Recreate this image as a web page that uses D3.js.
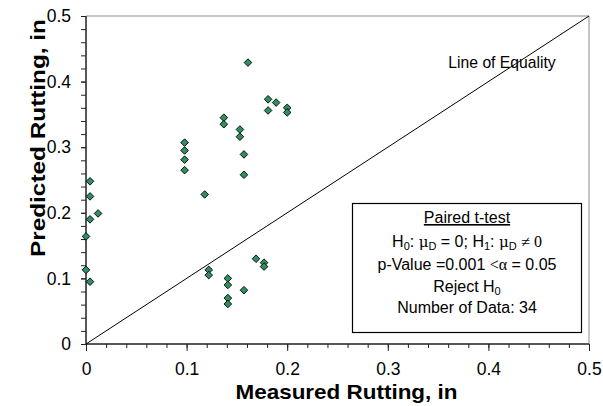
<!DOCTYPE html>
<html>
<head>
    <meta charset="utf-8">
    <style>
        body { margin: 0; background: #fff; }
        svg { font-family: Arial, 'Liberation Sans', sans-serif; }
        .domain { display: none; }
    </style>
</head>
<body>
<svg width="603" height="406"></svg>

<script src="https://d3js.org/d3.v7.min.js"></script>
<script>
    // measured vs predicted rutting (in)
    let measured = [0.004, 0.004, 0.004, 0.012, 0.000, 0.000, 0.004,
        0.098, 0.098, 0.098, 0.098, 0.118, 0.137, 0.137, 0.153, 0.153, 0.157, 0.157,
        0.161, 0.181, 0.189, 0.181, 0.200, 0.200,
        0.169, 0.177, 0.177, 0.122, 0.122, 0.141, 0.141, 0.157, 0.141, 0.141];
    let predicted = [0.248, 0.225, 0.190, 0.199, 0.164, 0.113, 0.095,
        0.307, 0.295, 0.281, 0.265, 0.228, 0.345, 0.335, 0.327, 0.316, 0.289, 0.258,
        0.429, 0.373, 0.368, 0.356, 0.360, 0.353,
        0.130, 0.124, 0.118, 0.113, 0.105, 0.100, 0.090, 0.082, 0.070, 0.061];
    let majorTicks = [0, 0.1, 0.2, 0.3, 0.4, 0.5];
    let minorTicks = d3.range(0, 0.5001, 0.02);
    let equality = [0, 0.5];

    let margin = { top: 16, right: 14, bottom: 62, left: 86 };
    let W = 603, H = 406;

    let svg = d3.select("svg");

    let x = d3.scaleLinear().domain([0, 0.5]).range([margin.left, W - margin.right]);
    let y = d3.scaleLinear().domain([0, 0.5]).range([H - margin.bottom, margin.top]);

    // gray frame top/right
    svg.append("path")
        .attr("d", `M${x(0)},${y(0.5)}H${x(0.5)}V${y(0)}`)
        .attr("fill", "none")
        .attr("stroke", "#8c8c8c")
        .attr("stroke-width", 1);

    // minor ticks
    svg.append("g")
        .attr("transform", `translate(0,${y(0)})`)
        .call(d3.axisBottom(x).tickValues(minorTicks).tickSize(4).tickFormat(""))
        .selectAll("line").attr("stroke", "#222");
    svg.append("g")
        .attr("transform", `translate(${x(0)},0)`)
        .call(d3.axisLeft(y).tickValues(minorTicks).tickSize(5).tickFormat(""))
        .selectAll("line").attr("stroke", "#222");

    // major ticks + labels
    let xAxis = svg.append("g")
        .attr("transform", `translate(0,${y(0)})`)
        .call(d3.axisBottom(x).tickValues(majorTicks).tickSize(7).tickPadding(12)
            .tickFormat(d => d === 0 ? "0" : d3.format(".1f")(d)));
    xAxis.selectAll("line").attr("stroke", "#222");
    xAxis.selectAll("text").attr("font-size", "17.5px").attr("fill", "#000")
        .attr("font-family", "Arial, 'Liberation Sans', sans-serif");

    let yAxis = svg.append("g")
        .attr("transform", `translate(${x(0)},0)`)
        .call(d3.axisLeft(y).tickValues(majorTicks).tickSize(5).tickPadding(10)
            .tickFormat(d => d === 0 ? "0" : d3.format(".1f")(d)));
    yAxis.selectAll("line").attr("stroke", "#222");
    yAxis.selectAll("text").attr("font-size", "17.5px").attr("fill", "#000")
        .attr("font-family", "Arial, 'Liberation Sans', sans-serif");

    // axis lines
    svg.append("path")
        .attr("d", `M${x(0)},${y(0.5)}V${y(0)}H${x(0.5)}`)
        .attr("fill", "none")
        .attr("stroke", "#222")
        .attr("stroke-width", 1.5);

    // line of equality
    svg.append("line")
        .attr("x1", x(equality[0])).attr("y1", y(equality[0]))
        .attr("x2", x(equality[1])).attr("y2", y(equality[1]))
        .attr("stroke", "#000")
        .attr("stroke-width", 1);

    svg.append("text")
        .attr("x", 502).attr("y", 68)
        .attr("text-anchor", "middle")
        .attr("font-size", "15.7px")
        .text("Line of Equality");

    // points
    svg.append("g")
        .selectAll("path")
        .data(measured.map((m, i) => [m, predicted[i]]))
        .join("path")
        .attr("transform", d => `translate(${x(d[0])},${y(d[1])})`)
        .attr("d", "M0,-3.8L3.8,0L0,3.8L-3.8,0Z")
        .attr("fill", "#2f8f5f")
        .attr("stroke", "#000")
        .attr("stroke-width", 0.9);

    // stats box
    svg.append("rect")
        .attr("x", 352.5).attr("y", 203.5)
        .attr("width", 229).attr("height", 129)
        .attr("fill", "#fff")
        .attr("stroke", "#000")
        .attr("stroke-width", 1.2);

    let cx = 467;
    let box = svg.append("g").attr("text-anchor", "middle").attr("font-size", "16px");

    box.append("text").attr("x", cx).attr("y", 223)
        .attr("text-decoration", "underline")
        .text("Paired t-test");

    let l2 = box.append("text").attr("x", cx).attr("y", 247);
    l2.append("tspan").text("H");
    l2.append("tspan").attr("font-size", "11px").attr("dy", 3).text("0");
    l2.append("tspan").attr("dy", -3).text(": ");
    l2.append("tspan").attr("font-family", "'DejaVu Serif', serif").attr("font-size", "15px").text("μ");
    l2.append("tspan").attr("font-size", "11px").attr("dy", 3).text("D");
    l2.append("tspan").attr("dy", -3).text(" = 0; H");
    l2.append("tspan").attr("font-size", "11px").attr("dy", 3).text("1");
    l2.append("tspan").attr("dy", -3).text(": ");
    l2.append("tspan").attr("font-family", "'DejaVu Serif', serif").attr("font-size", "15px").text("μ");
    l2.append("tspan").attr("font-size", "11px").attr("dy", 3).text("D");
    l2.append("tspan").attr("dy", -3).text(" ");
    l2.append("tspan").attr("font-family", "'Liberation Serif', serif").text("≠ 0");

    let l3 = box.append("text").attr("x", cx).attr("y", 270);
    l3.append("tspan").text("p-Value =0.001 ");
    l3.append("tspan").attr("font-family", "'Liberation Serif', serif").text("<α");
    l3.append("tspan").text(" = 0.05");

    let l4 = box.append("text").attr("x", cx).attr("y", 292);
    l4.append("tspan").text("Reject H");
    l4.append("tspan").attr("font-size", "11px").attr("dy", 3).text("0");

    box.append("text").attr("x", cx).attr("y", 313)
        .text("Number of Data: 34");

    // axis titles
    svg.append("text")
        .attr("x", 346.5).attr("y", 399)
        .attr("text-anchor", "middle")
        .attr("font-size", "21px")
        .attr("font-weight", "bold")
        .attr("textLength", 222)
        .attr("lengthAdjust", "spacingAndGlyphs")
        .text("Measured Rutting, in");

    svg.append("text")
        .attr("transform", "translate(45,138) rotate(-90)")
        .attr("text-anchor", "middle")
        .attr("font-size", "21px")
        .attr("font-weight", "bold")
        .attr("textLength", 238)
        .attr("lengthAdjust", "spacingAndGlyphs")
        .text("Predicted Rutting, in");
</script>
</body>
</html>
